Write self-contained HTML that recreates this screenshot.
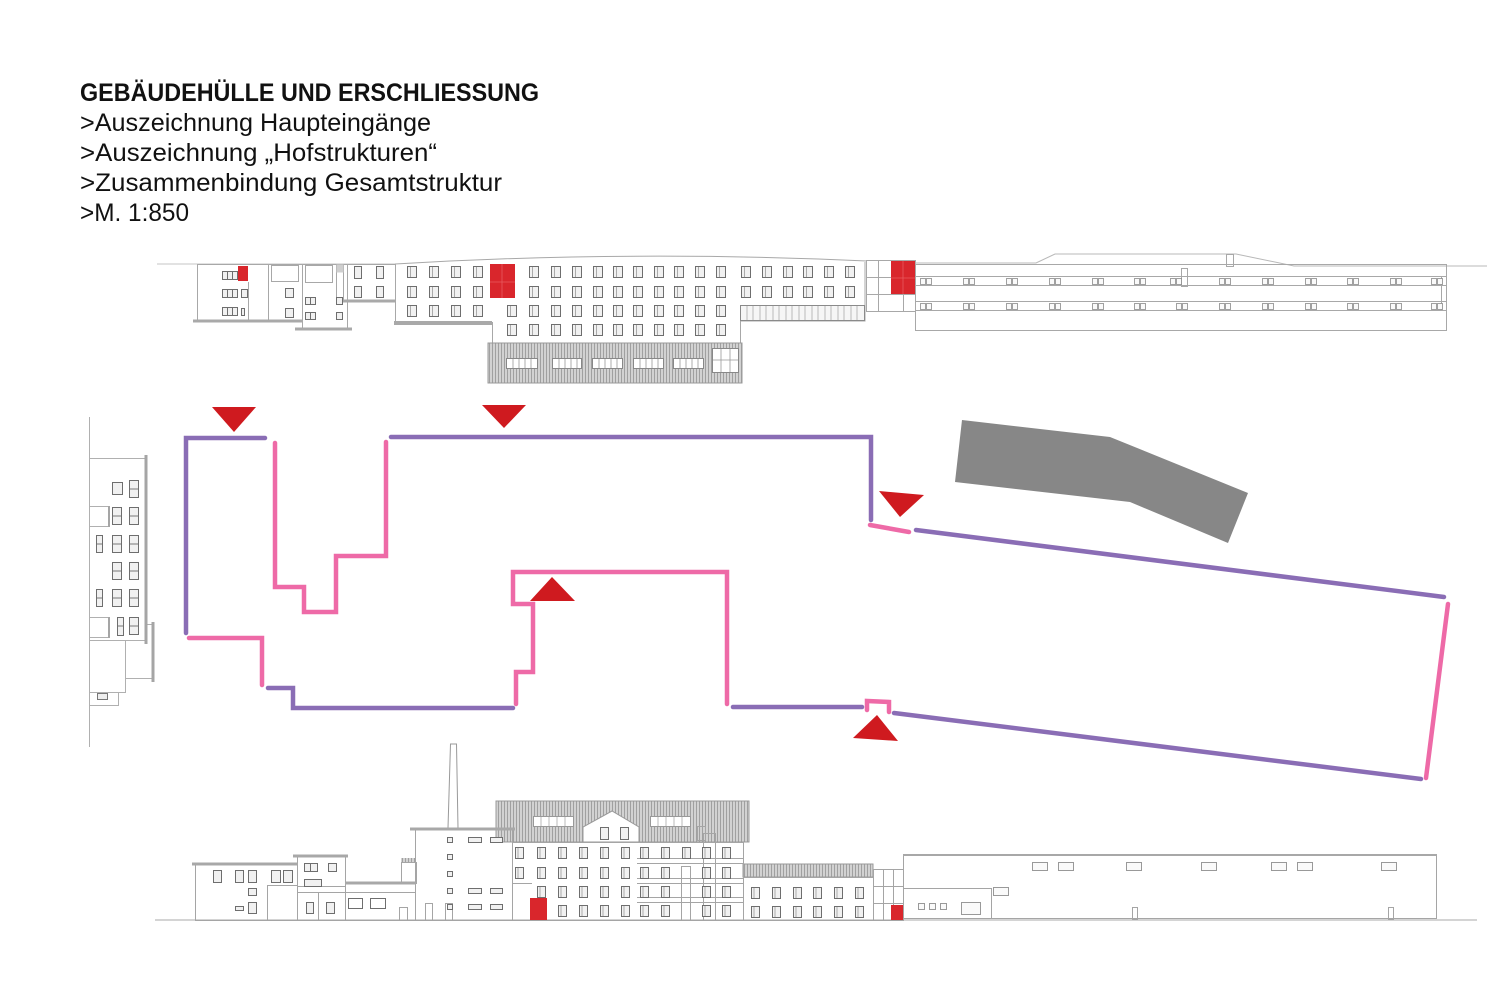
<!DOCTYPE html>
<html>
<head>
<meta charset="utf-8">
<style>
  html,body{margin:0;padding:0;background:#fff;}
  svg{display:block;}
</style>
</head>
<body>
<svg width="1500" height="1000" viewBox="0 0 1500 1000" xmlns="http://www.w3.org/2000/svg">
<defs>
  <pattern id="h" width="3" height="10" patternUnits="userSpaceOnUse">
    <rect width="3" height="10" fill="#d2d2d2"/>
    <rect width="1" height="10" fill="#a0a0a0"/>
  </pattern>
  <g id="w"><rect x="0.5" y="0.5" width="9" height="11" fill="#f1f1f1" stroke="#6e6e6e" stroke-width="1"/><line x1="3.5" y1="1" x2="3.5" y2="11" stroke="#aaa" stroke-width="1"/></g>
  <g id="wb"><rect x="0.5" y="0.5" width="8" height="11" fill="#f1f1f1" stroke="#6e6e6e" stroke-width="1"/><line x1="3" y1="1" x2="3" y2="11" stroke="#aaa" stroke-width="1"/></g>
  <g id="ws"><rect x="0.5" y="0.5" width="9" height="17" fill="#f1f1f1" stroke="#6e6e6e" stroke-width="1"/><line x1="1" y1="9" x2="9" y2="9" stroke="#777" stroke-width="1"/></g>
  <g id="wp"><rect x="0.5" y="0.5" width="5" height="6" fill="#fafafa" stroke="#8a8a8a" stroke-width="0.8"/><rect x="6.5" y="0.5" width="5" height="6" fill="#fafafa" stroke="#8a8a8a" stroke-width="0.8"/></g>
  <g id="wh"><rect x="0.5" y="0.5" width="15" height="8" fill="#fafafa" stroke="#999" stroke-width="1"/></g>
</defs>

<rect width="1500" height="1000" fill="#fff"/>

<!-- TITLE -->
<g font-family="Liberation Sans, Arial, sans-serif" fill="#111">
  <text x="80" y="101" font-size="25" font-weight="bold" textLength="459" lengthAdjust="spacingAndGlyphs">GEBÄUDEHÜLLE UND ERSCHLIESSUNG</text>
  <text x="80" y="131" font-size="25" textLength="351" lengthAdjust="spacingAndGlyphs">&gt;Auszeichnung Haupteingänge</text>
  <text x="80" y="161" font-size="25" textLength="357" lengthAdjust="spacingAndGlyphs">&gt;Auszeichnung „Hofstrukturen“</text>
  <text x="80" y="191" font-size="25" textLength="422" lengthAdjust="spacingAndGlyphs">&gt;Zusammenbindung Gesamtstruktur</text>
  <text x="80" y="221" font-size="25" textLength="109" lengthAdjust="spacingAndGlyphs">&gt;M. 1:850</text>
</g>

<!-- ============ TOP ELEVATION ============ -->
<g fill="none" stroke="#a8a8a8" stroke-width="1">
  <line x1="157" y1="264" x2="395" y2="264" stroke="#c4c4c4"/>
  <!-- building A -->
  <rect x="197.5" y="264.5" width="71" height="56"/>
  <line x1="248.5" y1="282" x2="248.5" y2="320"/>
  <!-- building B -->
  <rect x="268.5" y="264.5" width="34" height="56"/>
  <rect x="271.5" y="265.5" width="27" height="16"/>
  <!-- building C -->
  <rect x="302.5" y="264.5" width="45" height="64"/>
  <rect x="305.5" y="265.5" width="27" height="17"/>
  <rect x="336.5" y="264.5" width="7" height="36"/>
  <!-- building D -->
  <rect x="343.5" y="264.5" width="52" height="37"/>
  <!-- main building outline -->
  <path d="M395,264 Q630,250 867,261 M395.5,264 L395.5,322 M492.5,322 L492.5,343 M740.5,343 L740.5,321 L865,321 L865,262"/>
  <!-- connector -->
  <rect x="866.5" y="260.5" width="49" height="51"/>
  <line x1="878.5" y1="261" x2="878.5" y2="311"/>
  <line x1="866" y1="277.5" x2="891" y2="277.5"/>
  <line x1="866" y1="294.5" x2="915" y2="294.5"/>
  <line x1="903.5" y1="294" x2="903.5" y2="311"/>
  <!-- hall -->
  <path d="M915,263 L1036,263 L1055,254 L1236,254 L1294,266 L1487,266" stroke="#b8b8b8"/>
  <rect x="915.5" y="264.5" width="531" height="66"/>
  <line x1="916" y1="276.5" x2="1446" y2="276.5"/>
  <line x1="916" y1="285.5" x2="1446" y2="285.5"/>
  <line x1="916" y1="301.5" x2="1446" y2="301.5"/>
  <line x1="916" y1="310.5" x2="1446" y2="310.5"/>
  <rect x="1181.5" y="268.5" width="6" height="18"/>
  <rect x="1226.5" y="254.5" width="7" height="12"/>
  <line x1="1441.5" y1="276" x2="1441.5" y2="311"/>
</g>
<!-- base lines top -->
<g stroke="#a9a9a9" stroke-width="3">
  <line x1="193" y1="321" x2="303" y2="321"/>
  <line x1="295" y1="329" x2="352" y2="329"/>
  <line x1="343" y1="301" x2="395" y2="301"/>
  <line x1="394" y1="323" x2="492" y2="323" stroke-width="4"/>
</g>
<rect x="336.5" y="264.5" width="7" height="8" fill="#cfcfcf"/>
<!-- top-left small windows -->
<g fill="#f1f1f1" stroke="#6e6e6e" stroke-width="1">
  <rect x="222.5" y="271.5" width="15" height="8"/><line x1="227.5" y1="272" x2="227.5" y2="279"/><line x1="232.5" y1="272" x2="232.5" y2="279"/>
  <rect x="222.5" y="289.5" width="15" height="8"/><line x1="227.5" y1="290" x2="227.5" y2="297"/><line x1="232.5" y1="290" x2="232.5" y2="297"/>
  <rect x="222.5" y="307.5" width="15" height="8"/><line x1="227.5" y1="308" x2="227.5" y2="315"/><line x1="232.5" y1="308" x2="232.5" y2="315"/>
  <rect x="241.5" y="289.5" width="6" height="8"/>
  <rect x="241.5" y="308.5" width="3" height="7"/>
  <rect x="285.5" y="288.5" width="8" height="9"/>
  <rect x="285.5" y="308.5" width="8" height="9"/>
  <rect x="305.5" y="297.5" width="10" height="7"/><line x1="310.5" y1="298" x2="310.5" y2="304"/>
  <rect x="305.5" y="312.5" width="10" height="7"/><line x1="310.5" y1="313" x2="310.5" y2="319"/>
  <rect x="336.5" y="297.5" width="6" height="7"/>
  <rect x="336.5" y="312.5" width="6" height="7"/>
  <rect x="354.5" y="266.5" width="7" height="12"/>
  <rect x="376.5" y="266.5" width="7" height="12"/>
  <rect x="354.5" y="286.5" width="7" height="11"/>
  <rect x="376.5" y="286.5" width="7" height="11"/>
</g>
<rect x="238" y="266" width="10" height="15" fill="#d9262c"/>
<!-- main windows top -->
<g>
  <use href="#w" x="407" y="266"/><use href="#w" x="429" y="266"/><use href="#w" x="451" y="266"/><use href="#w" x="473" y="266"/>
  <use href="#w" x="529" y="266"/><use href="#w" x="551" y="266"/><use href="#w" x="572" y="266"/><use href="#w" x="593" y="266"/><use href="#w" x="613" y="266"/><use href="#w" x="633" y="266"/><use href="#w" x="654" y="266"/><use href="#w" x="674" y="266"/><use href="#w" x="695" y="266"/><use href="#w" x="716" y="266"/>
  <use href="#w" x="741" y="266"/><use href="#w" x="762" y="266"/><use href="#w" x="783" y="266"/><use href="#w" x="803" y="266"/><use href="#w" x="824" y="266"/><use href="#w" x="845" y="266"/>

  <use href="#w" x="407" y="286"/><use href="#w" x="429" y="286"/><use href="#w" x="451" y="286"/><use href="#w" x="473" y="286"/>
  <use href="#w" x="529" y="286"/><use href="#w" x="551" y="286"/><use href="#w" x="572" y="286"/><use href="#w" x="593" y="286"/><use href="#w" x="613" y="286"/><use href="#w" x="633" y="286"/><use href="#w" x="654" y="286"/><use href="#w" x="674" y="286"/><use href="#w" x="695" y="286"/><use href="#w" x="716" y="286"/>
  <use href="#w" x="741" y="286"/><use href="#w" x="762" y="286"/><use href="#w" x="783" y="286"/><use href="#w" x="803" y="286"/><use href="#w" x="824" y="286"/><use href="#w" x="845" y="286"/>

  <use href="#w" x="407" y="305"/><use href="#w" x="429" y="305"/><use href="#w" x="451" y="305"/><use href="#w" x="473" y="305"/>
  <use href="#w" x="507" y="305"/><use href="#w" x="529" y="305"/><use href="#w" x="551" y="305"/><use href="#w" x="572" y="305"/><use href="#w" x="593" y="305"/><use href="#w" x="613" y="305"/><use href="#w" x="633" y="305"/><use href="#w" x="654" y="305"/><use href="#w" x="674" y="305"/><use href="#w" x="695" y="305"/><use href="#w" x="716" y="305"/>

  <use href="#w" x="507" y="324"/><use href="#w" x="529" y="324"/><use href="#w" x="551" y="324"/><use href="#w" x="572" y="324"/><use href="#w" x="593" y="324"/><use href="#w" x="613" y="324"/><use href="#w" x="633" y="324"/><use href="#w" x="654" y="324"/><use href="#w" x="674" y="324"/><use href="#w" x="695" y="324"/><use href="#w" x="716" y="324"/>
</g>
<!-- red entrances top -->
<rect x="490" y="264" width="25" height="34" fill="#d9262c"/>
<line x1="502" y1="264" x2="502" y2="298" stroke="#e85a5e" stroke-width="0.8"/>
<line x1="490" y1="282" x2="515" y2="282" stroke="#e85a5e" stroke-width="0.8"/>
<rect x="891" y="261" width="24" height="33" fill="#d9262c"/>
<line x1="903" y1="261" x2="903" y2="294" stroke="#e85a5e" stroke-width="0.8"/>
<line x1="891" y1="278" x2="915" y2="278" stroke="#e85a5e" stroke-width="0.8"/>
<!-- right wing strip -->
<rect x="740.5" y="305.5" width="124" height="15" fill="#f6f6f6" stroke="#8a8a8a" stroke-width="1"/>
<g stroke="#aaa" stroke-width="0.8">
  <line x1="747" y1="306" x2="747" y2="320"/><line x1="753" y1="306" x2="753" y2="320"/><line x1="760" y1="306" x2="760" y2="320"/><line x1="766" y1="306" x2="766" y2="320"/><line x1="773" y1="306" x2="773" y2="320"/><line x1="779" y1="306" x2="779" y2="320"/><line x1="786" y1="306" x2="786" y2="320"/><line x1="792" y1="306" x2="792" y2="320"/><line x1="799" y1="306" x2="799" y2="320"/><line x1="805" y1="306" x2="805" y2="320"/><line x1="812" y1="306" x2="812" y2="320"/><line x1="818" y1="306" x2="818" y2="320"/><line x1="825" y1="306" x2="825" y2="320"/><line x1="831" y1="306" x2="831" y2="320"/><line x1="838" y1="306" x2="838" y2="320"/><line x1="844" y1="306" x2="844" y2="320"/><line x1="851" y1="306" x2="851" y2="320"/><line x1="857" y1="306" x2="857" y2="320"/>
</g>
<!-- base block top -->
<rect x="488" y="343" width="254" height="40" fill="url(#h)" stroke="#999" stroke-width="1"/>
<g fill="#fff" stroke="#888" stroke-width="1">
  <rect x="506.5" y="358.5" width="31" height="10"/>
  <rect x="552.5" y="358.5" width="29" height="10"/>
  <rect x="592.5" y="358.5" width="30" height="10"/>
  <rect x="633.5" y="358.5" width="30" height="10"/>
  <rect x="673.5" y="358.5" width="30" height="10"/>
  <rect x="712.5" y="348.5" width="26" height="24"/>
</g>
<g stroke="#999" stroke-width="0.8">
  <line x1="513" y1="359" x2="513" y2="368"/><line x1="519" y1="359" x2="519" y2="368"/><line x1="525" y1="359" x2="525" y2="368"/><line x1="531" y1="359" x2="531" y2="368"/>
  <line x1="559" y1="359" x2="559" y2="368"/><line x1="565" y1="359" x2="565" y2="368"/><line x1="571" y1="359" x2="571" y2="368"/><line x1="577" y1="359" x2="577" y2="368"/>
  <line x1="599" y1="359" x2="599" y2="368"/><line x1="605" y1="359" x2="605" y2="368"/><line x1="611" y1="359" x2="611" y2="368"/><line x1="617" y1="359" x2="617" y2="368"/>
  <line x1="640" y1="359" x2="640" y2="368"/><line x1="646" y1="359" x2="646" y2="368"/><line x1="652" y1="359" x2="652" y2="368"/><line x1="658" y1="359" x2="658" y2="368"/>
  <line x1="680" y1="359" x2="680" y2="368"/><line x1="686" y1="359" x2="686" y2="368"/><line x1="692" y1="359" x2="692" y2="368"/><line x1="698" y1="359" x2="698" y2="368"/>
  <line x1="721" y1="349" x2="721" y2="372"/><line x1="730" y1="349" x2="730" y2="372"/><line x1="713" y1="360" x2="738" y2="360"/>
</g>
<!-- hall windows top -->
<g>
  <use href="#wp" x="920" y="278"/><use href="#wp" x="963" y="278"/><use href="#wp" x="1006" y="278"/><use href="#wp" x="1049" y="278"/><use href="#wp" x="1092" y="278"/><use href="#wp" x="1134" y="278"/><use href="#wp" x="1170" y="278"/><use href="#wp" x="1219" y="278"/><use href="#wp" x="1262" y="278"/><use href="#wp" x="1305" y="278"/><use href="#wp" x="1347" y="278"/><use href="#wp" x="1390" y="278"/><use href="#wp" x="1431" y="278"/>
  <use href="#wp" x="920" y="303"/><use href="#wp" x="963" y="303"/><use href="#wp" x="1006" y="303"/><use href="#wp" x="1049" y="303"/><use href="#wp" x="1092" y="303"/><use href="#wp" x="1134" y="303"/><use href="#wp" x="1176" y="303"/><use href="#wp" x="1219" y="303"/><use href="#wp" x="1262" y="303"/><use href="#wp" x="1305" y="303"/><use href="#wp" x="1347" y="303"/><use href="#wp" x="1390" y="303"/><use href="#wp" x="1431" y="303"/>
</g>

<!-- ============ LEFT SIDE ELEVATION ============ -->
<g fill="none" stroke="#b0b0b0" stroke-width="1">
  <line x1="89.5" y1="417" x2="89.5" y2="747"/>
  <line x1="89" y1="458.5" x2="146" y2="458.5"/>
  <rect x="89.5" y="506.5" width="19" height="20"/>
  <rect x="89.5" y="617.5" width="19" height="20"/>
  <line x1="89" y1="640.5" x2="146" y2="640.5"/>
  <rect x="89.5" y="640.5" width="36" height="52"/>
  <rect x="89.5" y="692.5" width="29" height="13"/>
  <line x1="125" y1="678.5" x2="153" y2="678.5"/>
  <line x1="146" y1="624.5" x2="153" y2="624.5"/>
</g>
<g stroke="#a5a5a5" stroke-width="3">
  <line x1="146" y1="455" x2="146" y2="644"/>
  <line x1="153" y1="622" x2="153" y2="682"/>
  <line x1="109" y1="506" x2="109" y2="527" stroke-width="2"/>
  <line x1="109" y1="617" x2="109" y2="638" stroke-width="2"/>
</g>
<g>
  <rect x="112.5" y="482.5" width="10" height="12" fill="#f1f1f1" stroke="#6e6e6e"/>
  <use href="#ws" x="129" y="480"/>
  <use href="#ws" x="112" y="507"/><use href="#ws" x="129" y="507"/>
  <rect x="96.5" y="535.5" width="6" height="17" fill="#f1f1f1" stroke="#6e6e6e"/><line x1="97" y1="544" x2="102" y2="544" stroke="#777"/>
  <use href="#ws" x="112" y="535"/><use href="#ws" x="129" y="535"/>
  <use href="#ws" x="112" y="562"/><use href="#ws" x="129" y="562"/>
  <rect x="96.5" y="589.5" width="6" height="17" fill="#f1f1f1" stroke="#6e6e6e"/><line x1="97" y1="598" x2="102" y2="598" stroke="#777"/>
  <use href="#ws" x="112" y="589"/><use href="#ws" x="129" y="589"/>
  <rect x="117.5" y="617.5" width="6" height="18" fill="#f1f1f1" stroke="#6e6e6e"/><line x1="118" y1="626" x2="123" y2="626" stroke="#777"/>
  <use href="#ws" x="129" y="617"/>
  <rect x="97.5" y="693.5" width="10" height="6" fill="#eee" stroke="#777"/>
</g>

<!-- ============ PLAN ============ -->
<polygon points="962,420 1110,437 1248,493 1228,543 1130,502 955,482" fill="#878787"/>

<g fill="none" stroke-width="4.5" stroke-linecap="round" stroke-linejoin="miter">
  <!-- purple -->
  <g stroke="#8a6db5">
    <polyline points="265,438 186,438 186,633"/>
    <polyline points="391,437 871,437 871,520"/>
    <polyline points="268,688 293,688 293,708 513,708"/>
    <polyline points="733,707 862,707"/>
    <polyline points="916,530 1444,597"/>
    <polyline points="894,713 1421,779"/>
  </g>
  <!-- pink -->
  <g stroke="#ee6aa7">
    <polyline points="275,443 275,587 304,587 304,612 336,612 336,556 386,556 386,442"/>
    <polyline points="189,638 262,638 262,685"/>
    <polyline points="516,704 516,672 533,672 533,604 513,604 513,572 727,572 727,704"/>
    <polyline points="867,710 867,701 889,702 889,712"/>
    <polyline points="870,525 909,532"/>
    <polyline points="1448,604 1426,778"/>
  </g>
</g>

<!-- red triangles -->
<g fill="#cf1a1f">
  <polygon points="212,407 256,407 234,432"/>
  <polygon points="482,405 526,405 504,428"/>
  <polygon points="879,491 924,495 900,517"/>
  <polygon points="530,601 575,601 552,577"/>
  <polygon points="853,738 898,741 877,715"/>
</g>

<!-- ============ BOTTOM ELEVATION ============ -->
<line x1="155" y1="920" x2="1477" y2="920" stroke="#aaa" stroke-width="1"/>
<!-- chimney -->
<path d="M448,828 L450.5,744 L456.5,744 L458,828" fill="none" stroke="#999" stroke-width="1"/>
<!-- roofs hatched -->
<rect x="496" y="801" width="253" height="41" fill="url(#h)" stroke="#999" stroke-width="1"/>
<rect x="743" y="864" width="130" height="13" fill="url(#h)" stroke="#999" stroke-width="1"/>
<rect x="401" y="858" width="15" height="5" fill="url(#h)"/>
<g fill="#fff" stroke="#999" stroke-width="1">
  <!-- gable -->
  <path d="M583,842 L583,827 L612,811 L639,827 L639,842 Z"/>
  <rect x="533.5" y="816.5" width="40" height="10"/>
  <rect x="650.5" y="816.5" width="40" height="10"/>
</g>
<g stroke="#aaa" stroke-width="0.8">
  <line x1="541" y1="817" x2="541" y2="826"/><line x1="549" y1="817" x2="549" y2="826"/><line x1="557" y1="817" x2="557" y2="826"/><line x1="565" y1="817" x2="565" y2="826"/>
  <line x1="658" y1="817" x2="658" y2="826"/><line x1="666" y1="817" x2="666" y2="826"/><line x1="674" y1="817" x2="674" y2="826"/><line x1="682" y1="817" x2="682" y2="826"/>
</g>
<g fill="none" stroke="#a5a5a5" stroke-width="1">
  <!-- bldg 1 -->
  <rect x="195.5" y="864.5" width="102" height="56"/>
  <polyline points="267.5,920 267.5,885.5 297,885.5"/>
  <!-- bldg 2 -->
  <rect x="297.5" y="856.5" width="48" height="64"/>
  <line x1="297" y1="886.5" x2="345" y2="886.5"/>
  <line x1="297" y1="892.5" x2="345" y2="892.5"/>
  <line x1="318.5" y1="892" x2="318.5" y2="920"/>
  <!-- bldg 3 -->
  <rect x="345.5" y="883.5" width="70" height="37"/>
  <line x1="345" y1="892.5" x2="415" y2="892.5"/>
  <rect x="401.5" y="862.5" width="15" height="21"/>
  <rect x="399.5" y="907.5" width="8" height="13"/>
  <!-- bldg 4 -->
  <rect x="415.5" y="829.5" width="97" height="91"/>
  <rect x="425.5" y="903.5" width="7" height="17"/>
  <rect x="445.5" y="903.5" width="7" height="17"/>
  <!-- bldg 5 -->
  <rect x="512.5" y="842.5" width="231" height="78"/>
  <line x1="512" y1="883.5" x2="532" y2="883.5"/>
  <rect x="697.5" y="826.5" width="8" height="14"/>
  <rect x="703.5" y="833.5" width="12" height="87"/>
  <line x1="637" y1="858.5" x2="743" y2="858.5"/><line x1="637" y1="863.5" x2="743" y2="863.5"/>
  <line x1="637" y1="878.5" x2="743" y2="878.5"/><line x1="637" y1="883.5" x2="743" y2="883.5"/>
  <line x1="637" y1="897.5" x2="743" y2="897.5"/><line x1="637" y1="902.5" x2="743" y2="902.5"/>
  <rect x="681.5" y="866.5" width="9" height="54"/>
  <!-- bldg 6 -->
  <rect x="743.5" y="877.5" width="130" height="43"/>
  <!-- bldg 7 glazed -->
  <rect x="873.5" y="869.5" width="30" height="51"/>
  <line x1="883.5" y1="870" x2="883.5" y2="920"/><line x1="893.5" y1="870" x2="893.5" y2="920"/>
  <line x1="873" y1="886.5" x2="903" y2="886.5"/><line x1="873" y1="903.5" x2="903" y2="903.5"/>
  <!-- hall -->
  <rect x="903.5" y="855.5" width="533" height="63"/>
  <polyline points="903,888.5 991.5,888.5 991.5,918"/>
  <rect x="1132.5" y="907.5" width="5" height="12"/>
  <rect x="1388.5" y="907.5" width="5" height="12"/>
</g>
<g stroke="#a8a8a8" stroke-width="3">
  <line x1="192" y1="864" x2="298" y2="864"/>
  <line x1="293" y1="856" x2="348" y2="856"/>
  <line x1="345" y1="883" x2="416" y2="883"/>
  <line x1="410" y1="829" x2="515" y2="829"/>
  <line x1="903" y1="855" x2="1437" y2="855" stroke-width="2"/>
</g>
<!-- bottom windows -->
<g fill="#f1f1f1" stroke="#6e6e6e" stroke-width="1">
  <rect x="213.5" y="870.5" width="8" height="12"/>
  <rect x="235.5" y="870.5" width="8" height="12"/><rect x="248.5" y="870.5" width="8" height="12"/>
  <rect x="271.5" y="870.5" width="9" height="12"/><rect x="283.5" y="870.5" width="9" height="12"/>
  <rect x="248.5" y="888.5" width="8" height="7"/>
  <rect x="235.5" y="906.5" width="8" height="4"/>
  <rect x="248.5" y="902.5" width="8" height="11"/>
  <rect x="304.5" y="863.5" width="13" height="8"/><line x1="310.5" y1="864" x2="310.5" y2="871"/>
  <rect x="328.5" y="863.5" width="8" height="8"/>
  <rect x="304.5" y="879.5" width="17" height="7"/>
  <rect x="306.5" y="902.5" width="7" height="11"/>
  <rect x="326.5" y="902.5" width="8" height="11"/>
  <rect x="348.5" y="898.5" width="14" height="10" fill="#fff"/>
  <rect x="370.5" y="898.5" width="15" height="10" fill="#fff"/>
  <rect x="447.5" y="837.5" width="5" height="5"/>
  <rect x="447.5" y="854.5" width="5" height="5"/>
  <rect x="447.5" y="871.5" width="5" height="5"/>
  <rect x="447.5" y="888.5" width="5" height="5"/>
  <rect x="447.5" y="904.5" width="5" height="5"/>
  <rect x="468.5" y="837.5" width="13" height="5"/><rect x="490.5" y="837.5" width="12" height="5"/>
  <rect x="468.5" y="888.5" width="13" height="5"/><rect x="490.5" y="888.5" width="12" height="5"/>
  <rect x="468.5" y="904.5" width="13" height="5"/><rect x="490.5" y="904.5" width="12" height="5"/>
  <rect x="600.5" y="827.5" width="8" height="12"/>
  <rect x="620.5" y="827.5" width="8" height="12"/>
</g>
<g>
  <use href="#wb" x="515" y="847"/><use href="#wb" x="537" y="847"/><use href="#wb" x="558" y="847"/><use href="#wb" x="579" y="847"/><use href="#wb" x="600" y="847"/><use href="#wb" x="621" y="847"/><use href="#wb" x="640" y="847"/><use href="#wb" x="661" y="847"/><use href="#wb" x="682" y="847"/><use href="#wb" x="702" y="847"/><use href="#wb" x="722" y="847"/>
  <use href="#wb" x="515" y="867"/><use href="#wb" x="537" y="867"/><use href="#wb" x="558" y="867"/><use href="#wb" x="579" y="867"/><use href="#wb" x="600" y="867"/><use href="#wb" x="621" y="867"/><use href="#wb" x="640" y="867"/><use href="#wb" x="661" y="867"/><use href="#wb" x="702" y="867"/><use href="#wb" x="722" y="867"/>
  <use href="#wb" x="537" y="886"/><use href="#wb" x="558" y="886"/><use href="#wb" x="579" y="886"/><use href="#wb" x="600" y="886"/><use href="#wb" x="621" y="886"/><use href="#wb" x="640" y="886"/><use href="#wb" x="661" y="886"/><use href="#wb" x="702" y="886"/><use href="#wb" x="722" y="886"/>
  <use href="#wb" x="558" y="905"/><use href="#wb" x="579" y="905"/><use href="#wb" x="600" y="905"/><use href="#wb" x="621" y="905"/><use href="#wb" x="640" y="905"/><use href="#wb" x="661" y="905"/><use href="#wb" x="702" y="905"/><use href="#wb" x="722" y="905"/>
  <use href="#wb" x="751" y="887"/><use href="#wb" x="772" y="887"/><use href="#wb" x="793" y="887"/><use href="#wb" x="813" y="887"/><use href="#wb" x="834" y="887"/><use href="#wb" x="855" y="887"/>
  <use href="#wb" x="751" y="906"/><use href="#wb" x="772" y="906"/><use href="#wb" x="793" y="906"/><use href="#wb" x="813" y="906"/><use href="#wb" x="834" y="906"/><use href="#wb" x="855" y="906"/>
</g>
<!-- hall windows -->
<g>
  <use href="#wh" x="1032" y="862"/><use href="#wh" x="1058" y="862"/><use href="#wh" x="1126" y="862"/><use href="#wh" x="1201" y="862"/><use href="#wh" x="1271" y="862"/><use href="#wh" x="1297" y="862"/><use href="#wh" x="1381" y="862"/>
  <use href="#wh" x="993" y="887"/>
</g>
<g fill="#fafafa" stroke="#999" stroke-width="1">
  <rect x="918.5" y="903.5" width="6" height="6"/><rect x="929.5" y="903.5" width="6" height="6"/><rect x="940.5" y="903.5" width="6" height="6"/>
  <rect x="961.5" y="902.5" width="19" height="12"/>
</g>
<!-- red doors bottom -->
<rect x="530" y="898" width="17" height="22" fill="#d9262c"/>
<rect x="891" y="905" width="12" height="15" fill="#d9262c"/>
</svg>
</body>
</html>
